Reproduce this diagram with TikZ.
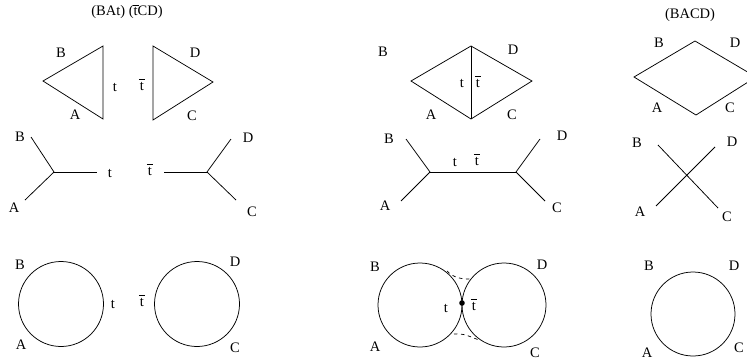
\documentclass[tikz,border=0pt]{standalone}
\usepackage{fontspec}
\setmainfont{Liberation Serif}
\newcommand{\tb}{\leavevmode\rlap{\hbox to \fontcharwd\font`t{\hss\raisebox{0.7em}{\rule{0.42em}{0.055em}}\hss}}t}
\begin{document}
\begin{tikzpicture}[x=1pt,y=-1pt,
  lbl/.style={inner sep=0pt,font=\fontsize{14.5}{17}\selectfont},
  edge/.style={line width=0.75pt,line join=miter},
  dashedge/.style={line width=0.7pt,dash pattern=on 3.5pt off 3.5pt}]
\useasboundingbox (0,0) rectangle (747,362);
% titles
\node[lbl] (title1) at (127,12) {(BAt) (\tb CD)};
\node[lbl] (title2) at (690,15) {(BACD)};
% ---- row 1 left triangles
\coordinate (t1l) at (43,81); \coordinate (t1t) at (103,46); \coordinate (t1b) at (103,119);
\draw[edge] (t1t) -- (t1l) -- (t1b) -- cycle;
\coordinate (t2l) at (153,46); \coordinate (t2b) at (153,120); \coordinate (t2r) at (213,82);
\draw[edge] (t2l) -- (t2r) -- (t2b) -- cycle;
\node[lbl] (r1B) at (61,53) {B};
\node[lbl] (r1A) at (75,115) {A};
\node[lbl] (r1t) at (115,87) {t};
\node[lbl] (r1tb) at (142,85) {\tb};
\node[lbl] (r1D) at (195,53) {D};
\node[lbl] (r1C) at (192,116) {C};
% ---- row 1 middle diamond
\coordinate (m1l) at (411,81); \coordinate (m1t) at (471,46); \coordinate (m1r) at (532,81); \coordinate (m1b) at (471,119);
\draw[edge] (m1l) -- (m1t) -- (m1r) -- (m1b) -- cycle;
\draw[edge] (m1t) -- (m1b);
\node[lbl] (m1B) at (383,52) {B};
\node[lbl] (m1D) at (513,50) {D};
\node[lbl] (m1A) at (431,115) {A};
\node[lbl] (m1C) at (512,115) {C};
\node[lbl] (m1tt) at (462,83) {t};
\node[lbl] (m1tb) at (478,82) {\tb};
% ---- row 1 right diamond
\coordinate (d1l) at (634,77); \coordinate (d1t) at (695,41); \coordinate (d1r) at (756,77); \coordinate (d1b) at (696,115);
\draw[edge] (d1l) -- (d1t) -- (d1r) -- (d1b) -- cycle;
\node[lbl] (d1B) at (659,43) {B};
\node[lbl] (d1D) at (735,43) {D};
\node[lbl] (d1A) at (657,108) {A};
\node[lbl] (d1C) at (730,108) {C};
% ---- row 2 left
\coordinate (j1) at (54,172); \coordinate (j1B) at (31,137); \coordinate (j1A) at (25,200); \coordinate (j1e) at (97,172);
\draw[edge] (j1B) -- (j1) -- (j1A); \draw[edge] (j1) -- (j1e);
\coordinate (j2) at (207,172); \coordinate (j2D) at (231,139); \coordinate (j2C) at (236,200); \coordinate (j2e) at (164,172);
\draw[edge] (j2D) -- (j2) -- (j2C); \draw[edge] (j2) -- (j2e);
\node[lbl] (r2B) at (20,137) {B};
\node[lbl] (r2A) at (14,208) {A};
\node[lbl] (r2t) at (110,173) {t};
\node[lbl] (r2tb) at (150,170) {\tb};
\node[lbl] (r2D) at (248,138) {D};
\node[lbl] (r2C) at (252,212) {C};
% ---- row 2 middle
\coordinate (k1) at (430,172); \coordinate (k1B) at (406,139); \coordinate (k1A) at (401,201);
\coordinate (k2) at (516,172); \coordinate (k2D) at (540,139); \coordinate (k2C) at (545,201);
\draw[edge] (k1B) -- (k1) -- (k1A); \draw[edge] (k2D) -- (k2) -- (k2C); \draw[edge] (k1) -- (k2);
\node[lbl] (m2B) at (389,139) {B};
\node[lbl] (m2A) at (385,206) {A};
\node[lbl] (m2t) at (455,162) {t};
\node[lbl] (m2tb) at (477,160) {\tb};
\node[lbl] (m2D) at (562,136) {D};
\node[lbl] (m2C) at (557,208) {C};
% ---- row 2 right cross
\coordinate (xB) at (658,145); \coordinate (xC) at (718,208); \coordinate (xD) at (715,147); \coordinate (xA) at (656,206);
\draw[edge] (xB) -- (xC); \draw[edge] (xD) -- (xA);
\node[lbl] (x2B) at (637,143) {B};
\node[lbl] (x2D) at (732,142) {D};
\node[lbl] (x2A) at (640,212) {A};
\node[lbl] (x2C) at (727,217) {C};
% ---- row 3 left circles
\draw[edge] (61,304) circle[radius=42.5];
\draw[edge] (197,304) circle[radius=42.5];
\node[lbl] (r3B) at (20,265) {B};
\node[lbl] (r3A) at (21,345) {A};
\node[lbl] (r3t) at (113,304) {t};
\node[lbl] (r3tb) at (142,301) {\tb};
\node[lbl] (r3D) at (235,262) {D};
\node[lbl] (r3C) at (235,348) {C};
% ---- row 3 middle circles
\draw[edge] (420,305) circle[radius=42];
\draw[edge] (504,305) circle[radius=42];
\coordinate (dtop1) at (447,271); \coordinate (dtop2) at (470,279);
\coordinate (dbot1) at (454,334); \coordinate (dbot2) at (479,340);
\draw[dashedge] (dtop1) to[out=-45,in=180] (dtop2);
\draw[dashedge] (dbot1) to[out=5,in=160] (dbot2);
\fill (462,303) circle[radius=2.8];
\node[lbl] (m3B) at (375,267) {B};
\node[lbl] (m3D) at (542,265) {D};
\node[lbl] (m3A) at (375,347) {A};
\node[lbl] (m3C) at (535,353) {C};
\node[lbl] (m3t) at (446,308) {t};
\node[lbl] (m3tb) at (474,305) {\tb};
% ---- row 3 right circle
\draw[edge] (693,314) circle[radius=42];
\node[lbl] (c3B) at (649,266) {B};
\node[lbl] (c3D) at (734,266) {D};
\node[lbl] (c3A) at (647,353) {A};
\node[lbl] (c3C) at (739,348) {C};
\end{tikzpicture}
\end{document}
